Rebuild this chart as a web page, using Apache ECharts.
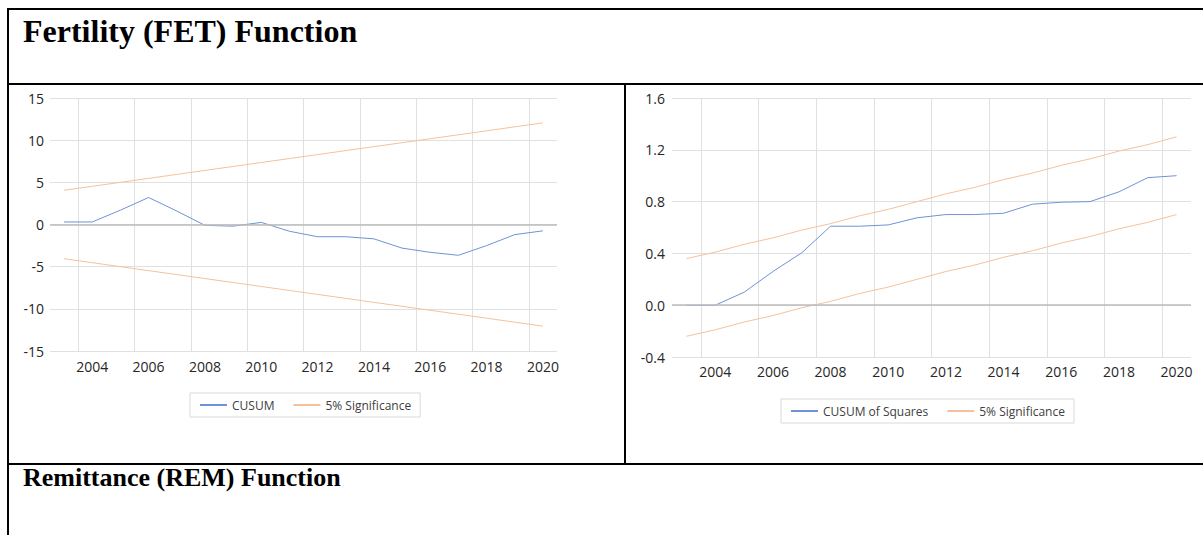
<!DOCTYPE html>
<html>
<head>
<meta charset="utf-8">
<script src="https://cdn.jsdelivr.net/npm/echarts@6/dist/echarts.min.js"></script>
<style>
	body { margin: 0; background: #fff; width: 1203px; height: 535px; overflow: hidden; position: relative; }
	#chart { position: absolute; left: 0; top: 0; width: 1203px; height: 535px; }
	.rule { position: absolute; background: #000; z-index: 2; }
	.head { position: absolute; left: 23px; font-family: "Liberation Serif", "Times New Roman", serif; font-weight: bold; color: #000; white-space: nowrap; z-index: 2; }
</style>
</head>
<body>
<div id="chart"></div>
<div class="rule" style="left:7px;top:8px;width:1196px;height:2px"></div>
<div class="rule" style="left:7px;top:8px;width:2px;height:527px"></div>
<div class="rule" style="left:7px;top:83px;width:1196px;height:2px"></div>
<div class="rule" style="left:624px;top:83px;width:2px;height:382px"></div>
<div class="rule" style="left:7px;top:463px;width:1196px;height:2px"></div>
<div class="head" style="top:15px;font-size:32px;line-height:32px">Fertility (FET) Function</div>
<div class="head" style="top:465px;font-size:26px;line-height:26px">Remittance (REM) Function</div>
<script>
	// years on both x axes
	var years = ['2003', '2004', '2005', '2006', '2007', '2008', '2009', '2010', '2011',
		'2012', '2013', '2014', '2015', '2016', '2017', '2018', '2019', '2020'];

	// CUSUM (left)
	var cusum = [0.3, 0.3, 1.7, 3.2, 1.6, -0.1, -0.2, 0.25, -0.8, -1.45, -1.45, -1.7, -2.8, -3.3, -3.65, -2.5, -1.2, -0.75];
	var cusumUpper = [4.06, 4.53, 5.0, 5.47, 5.94, 6.41, 6.88, 7.35, 7.82, 8.29, 8.76, 9.23, 9.7, 10.17, 10.64, 11.11, 11.58, 12.05];
	var cusumLower = [-4.06, -4.53, -5.0, -5.47, -5.94, -6.41, -6.88, -7.35, -7.82, -8.29, -8.76, -9.23, -9.7, -10.17, -10.64, -11.11, -11.58, -12.05];

	// CUSUM of squares (right)
	var cusumSq = [0, 0, 0.1, 0.26, 0.405, 0.61, 0.61, 0.62, 0.675, 0.7, 0.7, 0.71, 0.78, 0.795, 0.8, 0.875, 0.985, 1.0];
	var sqUpper = [0.36, 0.41, 0.47, 0.52, 0.58, 0.63, 0.69, 0.74, 0.8, 0.86, 0.91, 0.97, 1.02, 1.08, 1.13, 1.19, 1.24, 1.3];
	var sqLower = [-0.24, -0.19, -0.13, -0.08, -0.02, 0.03, 0.09, 0.14, 0.2, 0.26, 0.31, 0.37, 0.42, 0.48, 0.53, 0.59, 0.64, 0.7];

	var blue = '#6f93d4', orange = '#f5c19c', gridColor = '#e0e0e0';
	var font = '"Open Sans", "Noto Sans", sans-serif';
	var edges = years.concat(['2021']); // band edges, for the vertical grid lines

	function catAxis(g, margin) {
		return {
			type: 'category', gridIndex: g, data: years, boundaryGap: true,
			axisLine: { show: false }, axisTick: { show: false }, splitLine: { show: false },
			axisLabel: {
				color: '#262626', fontSize: 14, fontFamily: font, margin: margin,
				interval: function (i) { return i % 2 === 1; }
			}
		};
	}
	function edgeAxis(g) {
		return {
			type: 'category', gridIndex: g, data: edges, boundaryGap: false, position: 'bottom',
			axisLine: { show: false }, axisTick: { show: false }, axisLabel: { show: false },
			splitLine: {
				show: true, lineStyle: { color: gridColor, width: 1 },
				interval: function (i) { return i % 2 === 1; }
			}
		};
	}
	function valAxis(g, min, max, step, fmt, margin) {
		return {
			type: 'value', gridIndex: g, min: min, max: max, interval: step,
			axisLine: { show: false }, axisTick: { show: false },
			splitLine: { lineStyle: { color: gridColor, width: 1 } },
			axisLabel: { color: '#262626', fontSize: 14, fontFamily: font, margin: margin, formatter: fmt }
		};
	}
	function zeroLine() {
		return {
			silent: true, symbol: 'none', label: { show: false },
			lineStyle: { color: '#bdbdbd', width: 1.5, type: 'solid' },
			data: [{ yAxis: 0 }]
		};
	}
	function line(name, x, y, data, color, z) {
		return {
			name: name, type: 'line', xAxisIndex: x, yAxisIndex: y, data: data,
			symbol: 'none', z: z,
			lineStyle: { color: color, width: 1 }, itemStyle: { color: color }
		};
	}
	function legendBox(left, top, names) {
		return {
			left: left, top: top, data: names,
			padding: [6, 9], itemGap: 18, itemWidth: 27, itemHeight: 10,
			borderColor: '#d9d9d9', borderWidth: 1,
			itemStyle: { opacity: 0 },
			textStyle: { color: '#404040', fontSize: 12, fontFamily: font },
			selectedMode: false
		};
	}

	var chart = echarts.init(document.getElementById('chart'), null, { renderer: 'svg' });

	var leftCusum = line('CUSUM', 0, 0, cusum, blue, 3);
	leftCusum.markLine = zeroLine();
	var rightSq = line('CUSUM of Squares', 2, 1, cusumSq, blue, 3);
	rightSq.markLine = zeroLine();

	chart.setOption({
		animation: false,
		backgroundColor: 'transparent',
		grid: [
			{ left: 50, right: 646, top: 98, bottom: 184 },
			{ left: 672, right: 12, top: 98, bottom: 178 }
		],
		xAxis: [catAxis(0, 8), edgeAxis(0), catAxis(1, 7), edgeAxis(1)],
		yAxis: [
			valAxis(0, -15, 15, 5, null, 6),
			valAxis(1, -0.4, 1.6, 0.4, function (v) { return v.toFixed(1); }, 7)
		],
		legend: [
			legendBox(190, 393, ['CUSUM', '5% Significance']),
			legendBox(781, 399, ['CUSUM of Squares', '5% Significance'])
		],
		series: [
			leftCusum,
			line('5% Significance', 0, 0, cusumUpper, orange, 2),
			line('5% Significance', 0, 0, cusumLower, orange, 2),
			rightSq,
			line('5% Significance', 2, 1, sqUpper, orange, 2),
			line('5% Significance', 2, 1, sqLower, orange, 2)
		]
	});
</script>
</body>
</html>
